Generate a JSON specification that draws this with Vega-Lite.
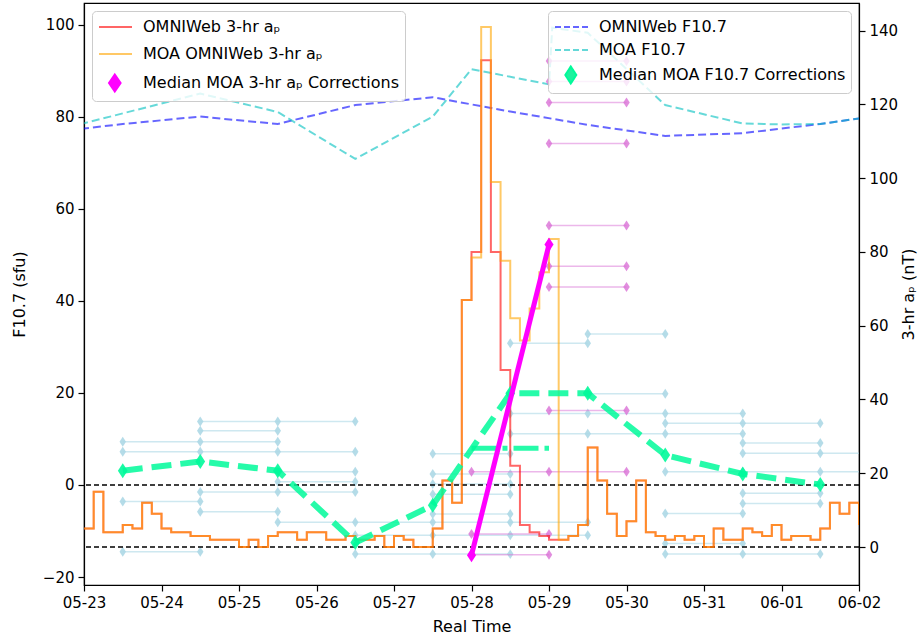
{
  "$schema": "https://vega.github.io/schema/vega-lite/v6.json",
  "width": 775,
  "height": 582,
  "autosize": {"type": "none"},
  "padding": {"left": 84, "top": 3, "right": 61, "bottom": 53},
  "background": "white",
  "config": {
    "font": "DejaVu Sans",
    "view": {"stroke": "black", "strokeWidth": 1.2},
    "axis": {"labelFont": "DejaVu Sans", "titleFont": "DejaVu Sans", "labelFontSize": 15, "titleFontSize": 16, "titleFontWeight": "normal", "labelColor": "black", "titleColor": "black", "tickColor": "black", "domainColor": "black", "grid": false, "tickWidth": 1.2, "domainWidth": 1.2}
  },
  "datasets": {
    "ap": [
      {"t":"2017-05-23T00:00","o":5,"m":5},{"t":"2017-05-23T03:00","o":15,"m":15},{"t":"2017-05-23T06:00","o":4,"m":4},{"t":"2017-05-23T09:00","o":4,"m":4},
      {"t":"2017-05-23T12:00","o":6,"m":6},{"t":"2017-05-23T15:00","o":5,"m":5},{"t":"2017-05-23T18:00","o":12,"m":12},{"t":"2017-05-23T21:00","o":9,"m":9},
      {"t":"2017-05-24T00:00","o":5,"m":5},{"t":"2017-05-24T03:00","o":4,"m":4},{"t":"2017-05-24T06:00","o":4,"m":4},{"t":"2017-05-24T09:00","o":3,"m":3},
      {"t":"2017-05-24T12:00","o":3,"m":3},{"t":"2017-05-24T15:00","o":2,"m":2},{"t":"2017-05-24T18:00","o":2,"m":2},{"t":"2017-05-24T21:00","o":2,"m":2},
      {"t":"2017-05-25T00:00","o":0,"m":0},{"t":"2017-05-25T03:00","o":2,"m":2},{"t":"2017-05-25T06:00","o":0,"m":0},{"t":"2017-05-25T09:00","o":3,"m":3},
      {"t":"2017-05-25T12:00","o":4,"m":4},{"t":"2017-05-25T15:00","o":4,"m":4},{"t":"2017-05-25T18:00","o":2,"m":2},{"t":"2017-05-25T21:00","o":4,"m":4},
      {"t":"2017-05-26T00:00","o":4,"m":4},{"t":"2017-05-26T03:00","o":2,"m":2},{"t":"2017-05-26T06:00","o":2,"m":2},{"t":"2017-05-26T09:00","o":3,"m":3},
      {"t":"2017-05-26T12:00","o":2,"m":2},{"t":"2017-05-26T15:00","o":2,"m":2},{"t":"2017-05-26T18:00","o":3,"m":3},{"t":"2017-05-26T21:00","o":0,"m":0},
      {"t":"2017-05-27T00:00","o":3,"m":3},{"t":"2017-05-27T03:00","o":2,"m":2},{"t":"2017-05-27T06:00","o":0,"m":0},{"t":"2017-05-27T09:00","o":0,"m":0},
      {"t":"2017-05-27T12:00","o":5,"m":5},{"t":"2017-05-27T15:00","o":18,"m":18},{"t":"2017-05-27T18:00","o":12,"m":12},{"t":"2017-05-27T21:00","o":67,"m":67},
      {"t":"2017-05-28T00:00","o":80,"m":78.5},{"t":"2017-05-28T03:00","o":132,"m":141},{"t":"2017-05-28T06:00","o":80,"m":99},{"t":"2017-05-28T09:00","o":48,"m":77.6},
      {"t":"2017-05-28T12:00","o":22,"m":62},{"t":"2017-05-28T15:00","o":6,"m":56},{"t":"2017-05-28T18:00","o":4,"m":64.7},{"t":"2017-05-28T21:00","o":3,"m":74.5},
      {"t":"2017-05-29T00:00","o":2,"m":83.5},{"t":"2017-05-29T03:00","o":2,"m":2},{"t":"2017-05-29T06:00","o":3,"m":3},{"t":"2017-05-29T09:00","o":6,"m":6},
      {"t":"2017-05-29T12:00","o":27,"m":27},{"t":"2017-05-29T15:00","o":18,"m":18},{"t":"2017-05-29T18:00","o":9,"m":9},{"t":"2017-05-29T21:00","o":3,"m":3},
      {"t":"2017-05-30T00:00","o":7,"m":7},{"t":"2017-05-30T03:00","o":18,"m":18},{"t":"2017-05-30T06:00","o":4,"m":4},{"t":"2017-05-30T09:00","o":3,"m":3},
      {"t":"2017-05-30T12:00","o":2,"m":2},{"t":"2017-05-30T15:00","o":3,"m":3},{"t":"2017-05-30T18:00","o":2,"m":2},{"t":"2017-05-30T21:00","o":3,"m":3},
      {"t":"2017-05-31T00:00","o":0,"m":0},{"t":"2017-05-31T03:00","o":5,"m":5},{"t":"2017-05-31T06:00","o":2,"m":2},{"t":"2017-05-31T09:00","o":2,"m":2},
      {"t":"2017-05-31T12:00","o":5,"m":5},{"t":"2017-05-31T15:00","o":4,"m":4},{"t":"2017-05-31T18:00","o":3,"m":3},{"t":"2017-05-31T21:00","o":6,"m":6},
      {"t":"2017-06-01T00:00","o":2,"m":2},{"t":"2017-06-01T03:00","o":3,"m":3},{"t":"2017-06-01T06:00","o":3,"m":3},{"t":"2017-06-01T09:00","o":2,"m":2},
      {"t":"2017-06-01T12:00","o":5,"m":5},{"t":"2017-06-01T15:00","o":12,"m":12},{"t":"2017-06-01T18:00","o":9,"m":9},{"t":"2017-06-01T21:00","o":12,"m":12},
      {"t":"2017-06-02T00:00","o":6,"m":6}
    ],
    "f107": [
      {"s":"o","t":"2017-05-22T12:00","v":76.4},{"s":"o","t":"2017-05-23T12:00","v":78.4},{"s":"o","t":"2017-05-24T12:00","v":80.0},{"s":"o","t":"2017-05-25T12:00","v":78.4},
      {"s":"o","t":"2017-05-26T12:00","v":82.5},{"s":"o","t":"2017-05-27T12:00","v":84.2},{"s":"o","t":"2017-05-28T12:00","v":81.1},{"s":"o","t":"2017-05-29T12:00","v":78.2},
      {"s":"o","t":"2017-05-30T12:00","v":75.8},{"s":"o","t":"2017-05-31T12:00","v":76.4},{"s":"o","t":"2017-06-01T12:00","v":78.4},{"s":"o","t":"2017-06-02T12:00","v":80.8},
      {"s":"m","t":"2017-05-22T12:00","v":76.4},{"s":"m","t":"2017-05-23T12:00","v":80.7},{"s":"m","t":"2017-05-24T12:00","v":85.0},{"s":"m","t":"2017-05-25T12:00","v":81.0},
      {"s":"m","t":"2017-05-26T12:00","v":70.8},{"s":"m","t":"2017-05-27T12:00","v":80.0},{"s":"m","t":"2017-05-28T00:00","v":90.3},{"s":"m","t":"2017-05-29T00:00","v":87.0},
      {"s":"m","t":"2017-05-29T01:00","v":99.3},{"s":"m","t":"2017-05-29T12:00","v":98.2},{"s":"m","t":"2017-05-30T12:00","v":82.5},{"s":"m","t":"2017-05-31T12:00","v":78.5},
      {"s":"m","t":"2017-06-01T00:00","v":78.3},{"s":"m","t":"2017-06-01T12:00","v":78.4},{"s":"m","t":"2017-06-02T12:00","v":80.8}
    ],
    "fens": [
      {"g":"A","t":"2017-05-23T12:00","v":9.4},{"g":"A","t":"2017-05-24T12:00","v":9.4},{"g":"A","t":"2017-05-25T12:00","v":9.4},
      {"g":"B","t":"2017-05-23T12:00","v":7.2},{"g":"B","t":"2017-05-24T12:00","v":7.2},{"g":"B","t":"2017-05-25T12:00","v":7.2},{"g":"B","t":"2017-05-26T12:00","v":7.2},
      {"g":"C","t":"2017-05-23T12:00","v":-3.6},{"g":"C","t":"2017-05-24T12:00","v":-3.6},
      {"g":"D","t":"2017-05-23T12:00","v":-14.5},{"g":"D","t":"2017-05-24T12:00","v":-14.5},
      {"g":"E","t":"2017-05-24T12:00","v":13.8},{"g":"E","t":"2017-05-25T12:00","v":13.8},{"g":"E","t":"2017-05-26T12:00","v":13.8},
      {"g":"F","t":"2017-05-24T12:00","v":11.8},{"g":"F","t":"2017-05-25T12:00","v":11.8},
      {"g":"G","t":"2017-05-24T12:00","v":-1.5},{"g":"G","t":"2017-05-25T12:00","v":-1.5},{"g":"G","t":"2017-05-26T12:00","v":-1.5},
      {"g":"H","t":"2017-05-24T12:00","v":-5.8},{"g":"H","t":"2017-05-25T12:00","v":-5.8},
      {"g":"I","t":"2017-05-25T12:00","v":2.9},{"g":"I","t":"2017-05-26T12:00","v":2.9},
      {"g":"J","t":"2017-05-25T12:00","v":0.7},{"g":"J","t":"2017-05-26T12:00","v":0.7},
      {"g":"K","t":"2017-05-25T12:00","v":-8.1},{"g":"K","t":"2017-05-26T12:00","v":-8.1},{"g":"K","t":"2017-05-27T12:00","v":-8.1},{"g":"K","t":"2017-05-28T12:00","v":-8.1},{"g":"K","t":"2017-05-29T12:00","v":-8.1},
      {"g":"L","t":"2017-05-26T12:00","v":-10.9},{"g":"L","t":"2017-05-27T12:00","v":-10.9},{"g":"L","t":"2017-05-28T12:00","v":-10.9},{"g":"L","t":"2017-05-29T12:00","v":-10.9},
      {"g":"M","t":"2017-05-26T12:00","v":-15.0},{"g":"M","t":"2017-05-27T12:00","v":-15.0},{"g":"M","t":"2017-05-28T12:00","v":-15.0},
      {"g":"N","t":"2017-05-27T12:00","v":6.8},{"g":"N","t":"2017-05-28T12:00","v":6.8},
      {"g":"O","t":"2017-05-27T12:00","v":2.4},{"g":"O","t":"2017-05-28T12:00","v":2.4},
      {"g":"P","t":"2017-05-27T12:00","v":0.2},{"g":"P","t":"2017-05-28T12:00","v":0.2},
      {"g":"Q","t":"2017-05-27T12:00","v":-2.0},{"g":"Q","t":"2017-05-28T12:00","v":-2.0},
      {"g":"R","t":"2017-05-27T12:00","v":-6.3},{"g":"R","t":"2017-05-28T12:00","v":-6.3},
      {"g":"S","t":"2017-05-28T12:00","v":30.8},{"g":"S","t":"2017-05-29T12:00","v":30.8},
      {"g":"T","t":"2017-05-28T12:00","v":15.5},{"g":"T","t":"2017-05-29T12:00","v":15.5},{"g":"T","t":"2017-05-30T12:00","v":15.5},{"g":"T","t":"2017-05-31T12:00","v":15.5},
      {"g":"U","t":"2017-05-28T12:00","v":11.1},{"g":"U","t":"2017-05-29T12:00","v":11.1},{"g":"U","t":"2017-05-30T12:00","v":11.1},{"g":"U","t":"2017-05-31T12:00","v":11.1},
      {"g":"V","t":"2017-05-29T12:00","v":32.8},{"g":"V","t":"2017-05-30T12:00","v":32.8},
      {"g":"W","t":"2017-05-29T12:00","v":19.8},{"g":"W","t":"2017-05-30T12:00","v":19.8},
      {"g":"X","t":"2017-05-30T12:00","v":13.4},{"g":"X","t":"2017-05-31T12:00","v":13.4},{"g":"X","t":"2017-06-01T12:00","v":13.4},
      {"g":"Y","t":"2017-05-30T12:00","v":2.9},{"g":"Y","t":"2017-05-31T12:00","v":2.9},{"g":"Y","t":"2017-06-01T12:00","v":2.9},{"g":"Y","t":"2017-06-02T12:00","v":2.9},
      {"g":"Z","t":"2017-05-30T12:00","v":-6.2},{"g":"Z","t":"2017-05-31T12:00","v":-6.2},
      {"g":"AA","t":"2017-05-30T12:00","v":-12.7},{"g":"AA","t":"2017-05-31T12:00","v":-12.7},
      {"g":"AB","t":"2017-05-30T12:00","v":-15.0},{"g":"AB","t":"2017-05-31T12:00","v":-15.0},{"g":"AB","t":"2017-06-01T12:00","v":-15.0},
      {"g":"AC","t":"2017-05-31T12:00","v":9.1},{"g":"AC","t":"2017-06-01T12:00","v":9.1},
      {"g":"AD","t":"2017-05-31T12:00","v":6.9},{"g":"AD","t":"2017-06-01T12:00","v":6.9},{"g":"AD","t":"2017-06-02T12:00","v":6.9},
      {"g":"AE","t":"2017-05-31T12:00","v":-1.8},{"g":"AE","t":"2017-06-01T12:00","v":-1.8},
      {"g":"AF","t":"2017-05-31T12:00","v":-4.0},{"g":"AF","t":"2017-06-01T12:00","v":-4.0}
    ],
    "aens": [
      {"g":"a","t":"2017-05-28T00:00","v":20.4},{"g":"a","t":"2017-05-29T00:00","v":20.4},{"g":"a","t":"2017-05-30T00:00","v":20.4},
      {"g":"b","t":"2017-05-28T00:00","v":3.5},{"g":"b","t":"2017-05-29T00:00","v":3.5},
      {"g":"c","t":"2017-05-28T00:00","v":-2.1},{"g":"c","t":"2017-05-29T00:00","v":-2.1},
      {"g":"d","t":"2017-05-29T00:00","v":131.8},{"g":"d","t":"2017-05-30T00:00","v":131.8},
      {"g":"e","t":"2017-05-29T00:00","v":126.2},{"g":"e","t":"2017-05-30T00:00","v":126.2},
      {"g":"f","t":"2017-05-29T00:00","v":120.5},{"g":"f","t":"2017-05-30T00:00","v":120.5},
      {"g":"h","t":"2017-05-29T00:00","v":109.4},{"g":"h","t":"2017-05-30T00:00","v":109.4},
      {"g":"i","t":"2017-05-29T00:00","v":87.2},{"g":"i","t":"2017-05-30T00:00","v":87.2},
      {"g":"j","t":"2017-05-29T00:00","v":76.1},{"g":"j","t":"2017-05-30T00:00","v":76.1},
      {"g":"k","t":"2017-05-29T00:00","v":70.5},{"g":"k","t":"2017-05-30T00:00","v":70.5},
      {"g":"l","t":"2017-05-29T00:00","v":37.0},{"g":"l","t":"2017-05-30T00:00","v":37.0}
    ],
    "fmed": [
      {"t":"2017-05-23T12:00","v":3.1},{"t":"2017-05-24T12:00","v":5.1},{"t":"2017-05-25T12:00","v":3.1},{"t":"2017-05-26T12:00","v":-12.5},
      {"t":"2017-05-27T12:00","v":-4.4},{"t":"2017-05-28T12:00","v":19.9},{"t":"2017-05-29T12:00","v":19.9},{"t":"2017-05-30T12:00","v":6.5},
      {"t":"2017-05-31T12:00","v":2.4},{"t":"2017-06-01T12:00","v":0.1}
    ],
    "fdd": [{"t":"2017-05-28T00:00","v":8.0},{"t":"2017-05-29T00:00","v":8.0}],
    "amed": [{"t":"2017-05-28T00:00","v":-2.2},{"t":"2017-05-29T00:00","v":82.0}]
  },
  "layer": [
    {
      "layer": [
        {
          "data": {"name": "fens"},
          "mark": {"type": "line", "color": "#add8e6", "opacity": 0.6, "strokeWidth": 1.5, "clip": true},
          "encoding": {
            "x": {"field": "t", "type": "temporal", "title": "Real Time",
              "scale": {"domain": [{"year": 2017, "month": 5, "date": 23}, {"year": 2017, "month": 6, "date": 2}]},
              "axis": {"values": [{"year": 2017, "month": 5, "date": 23}, {"year": 2017, "month": 5, "date": 24}, {"year": 2017, "month": 5, "date": 25}, {"year": 2017, "month": 5, "date": 26}, {"year": 2017, "month": 5, "date": 27}, {"year": 2017, "month": 5, "date": 28}, {"year": 2017, "month": 5, "date": 29}, {"year": 2017, "month": 5, "date": 30}, {"year": 2017, "month": 5, "date": 31}, {"year": 2017, "month": 6, "date": 1}, {"year": 2017, "month": 6, "date": 2}],
                "format": "%m-%d", "tickSize": 6, "labelPadding": 4, "titlePadding": 8, "labelFlush": false, "labelOverlap": false, "labelBound": false}},
            "y": {"field": "v", "type": "quantitative", "title": "F10.7 (sfu)",
              "scale": {"domain": [-21.72, 104.67], "zero": false, "nice": false},
              "axis": {"orient": "left", "values": [-20, 0, 20, 40, 60, 80, 100], "tickSize": 6, "labelPadding": 4, "titlePadding": 15}},
            "detail": {"field": "g"}
          }
        },
        {
          "data": {"name": "fens"},
          "mark": {"type": "point", "shape": "M0,-1L0.65,0L0,1L-0.65,0Z", "filled": true, "color": "#add8e6", "opacity": 0.9, "size": 100, "clip": true},
          "encoding": {
            "x": {"field": "t", "type": "temporal"},
            "y": {"field": "v", "type": "quantitative", "title": "F10.7 (sfu)"}
          }
        },
        {
          "data": {"values": [{}]},
          "mark": {"type": "rule", "color": "black", "strokeDash": [5, 3], "strokeWidth": 1.3},
          "encoding": {"y": {"datum": 0, "type": "quantitative"}}
        },
        {
          "data": {"name": "f107"},
          "transform": [{"filter": "datum.s === 'o'"}],
          "mark": {"type": "line", "strokeDash": [8, 4], "strokeWidth": 2, "strokeOpacity": 0.6, "clip": true},
          "encoding": {
            "x": {"field": "t", "type": "temporal"},
            "y": {"field": "v", "type": "quantitative", "title": "F10.7 (sfu)"},
            "color": {"datum": "OMNIWeb F10.7",
              "scale": {"domain": ["OMNIWeb F10.7", "MOA F10.7", "Median MOA F10.7 Corrections"], "range": ["#0000ff", "#00bfbf", "#00fa9a"]},
              "legend": {"orient": "top-right", "offset": 8, "title": null, "labelFontSize": 16, "labelFont": "DejaVu Sans", "labelColor": "black", "labelLimit": 400,
                "fillColor": "rgba(255,255,255,0.8)", "strokeColor": "#cccccc", "cornerRadius": 4, "padding": 5, "rowPadding": 4, "labelOffset": 24, "symbolSize": 400,
                "symbolType": {"expr": "datum.value === 'Median MOA F10.7 Corrections' ? 'M0.68,-0.85L1.23,0L0.68,0.85L0.13,0Z' : 'M-0.9,0L2.4,0'"},
                "symbolFillColor": {"expr": "datum.value === 'Median MOA F10.7 Corrections' ? '#1ef29e' : 'transparent'"},
                "symbolStrokeColor": {"expr": "datum.value === 'OMNIWeb F10.7' ? '#6666ff' : (datum.value === 'MOA F10.7' ? '#66d9d9' : 'transparent')"},
                "symbolDash": {"expr": "datum.value === 'Median MOA F10.7 Corrections' ? [1, 0] : [6, 3]"},
                "symbolStrokeWidth": 2,
                "symbolOpacity": {"expr": "datum.value === 'Median MOA F10.7 Corrections' ? 1 : 0.6"}
              }
            }
          }
        },
        {
          "data": {"name": "f107"},
          "transform": [{"filter": "datum.s === 'm'"}],
          "mark": {"type": "line", "strokeDash": [8, 4], "strokeWidth": 2, "strokeOpacity": 0.6, "clip": true},
          "encoding": {
            "x": {"field": "t", "type": "temporal"},
            "y": {"field": "v", "type": "quantitative", "title": "F10.7 (sfu)"},
            "color": {"datum": "MOA F10.7"}
          }
        }
      ]
    },
    {
      "layer": [
        {
          "data": {"name": "aens"},
          "mark": {"type": "line", "color": "#da70d6", "opacity": 0.5, "strokeWidth": 1.5, "clip": true},
          "encoding": {
            "x": {"field": "t", "type": "temporal"},
            "y": {"field": "v", "type": "quantitative", "title": "3-hr aₚ (nT)",
              "scale": {"domain": [-10.3, 147.5], "zero": false, "nice": false},
              "axis": {"orient": "right", "values": [0, 20, 40, 60, 80, 100, 120, 140], "tickSize": 6, "labelPadding": 4, "titlePadding": 3, "titleAngle": 270, "titleBaseline": "top"}},
            "detail": {"field": "g"}
          }
        },
        {
          "data": {"name": "aens"},
          "mark": {"type": "point", "shape": "M0,-1L0.65,0L0,1L-0.65,0Z", "filled": true, "color": "#da70d6", "opacity": 0.8, "size": 100, "clip": true},
          "encoding": {
            "x": {"field": "t", "type": "temporal"},
            "y": {"field": "v", "type": "quantitative", "title": "3-hr aₚ (nT)"}
          }
        },
        {
          "data": {"values": [{}]},
          "mark": {"type": "rule", "color": "black", "strokeDash": [5, 3], "strokeWidth": 1.3},
          "encoding": {"y": {"datum": 0, "type": "quantitative"}}
        },
        {
          "data": {"name": "ap"},
          "mark": {"type": "line", "interpolate": "step-after", "strokeWidth": 2, "strokeOpacity": 0.6, "clip": true},
          "encoding": {
            "x": {"field": "t", "type": "temporal"},
            "y": {"field": "o", "type": "quantitative", "title": "3-hr aₚ (nT)"},
            "color": {"datum": "OMNIWeb 3-hr aₚ",
              "scale": {"domain": ["OMNIWeb 3-hr aₚ", "MOA OMNIWeb 3-hr aₚ", "Median MOA 3-hr aₚ Corrections"], "range": ["#ff0000", "#ffa500", "#ff00ff"]},
              "legend": {"orient": "top-left", "offset": 8, "title": null, "labelFontSize": 16, "labelFont": "DejaVu Sans", "labelColor": "black", "labelLimit": 400,
                "fillColor": "rgba(255,255,255,0.8)", "strokeColor": "#cccccc", "cornerRadius": 4, "padding": 5, "rowPadding": 8, "labelOffset": 24, "symbolSize": 400,
                "symbolType": {"expr": "datum.value === 'Median MOA 3-hr aₚ Corrections' ? 'M0.68,-0.85L1.26,0L0.68,0.85L0.1,0Z' : 'M-0.9,0L2.4,0'"},
                "symbolFillColor": {"expr": "datum.value === 'Median MOA 3-hr aₚ Corrections' ? '#ff00ff' : 'transparent'"},
                "symbolStrokeColor": {"expr": "datum.value === 'OMNIWeb 3-hr aₚ' ? '#ff6666' : (datum.value === 'MOA OMNIWeb 3-hr aₚ' ? '#ffc966' : 'transparent')"},
                "symbolStrokeWidth": 2,
                "symbolOpacity": {"expr": "datum.value === 'Median MOA 3-hr aₚ Corrections' ? 1 : 0.6"}
              }
            }
          }
        },
        {
          "data": {"name": "ap"},
          "mark": {"type": "line", "interpolate": "step-after", "strokeWidth": 2, "strokeOpacity": 0.6, "clip": true},
          "encoding": {
            "x": {"field": "t", "type": "temporal"},
            "y": {"field": "m", "type": "quantitative", "title": "3-hr aₚ (nT)"},
            "color": {"datum": "MOA OMNIWeb 3-hr aₚ"}
          }
        }
      ]
    },
    {
      "layer": [
        {
          "data": {"name": "fmed"},
          "mark": {"type": "line", "color": "#00fa9a", "opacity": 0.85, "strokeWidth": 6, "strokeDash": [20, 9], "clip": true},
          "encoding": {
            "x": {"field": "t", "type": "temporal"},
            "y": {"field": "v", "type": "quantitative", "scale": {"domain": [-21.72, 104.67], "zero": false, "nice": false}, "axis": null}
          }
        },
        {
          "data": {"name": "fmed"},
          "mark": {"type": "point", "shape": "M0,-1L0.65,0L0,1L-0.65,0Z", "filled": true, "color": "#00fa9a", "opacity": 0.9, "size": 225, "clip": true},
          "encoding": {
            "x": {"field": "t", "type": "temporal"},
            "y": {"field": "v", "type": "quantitative"}
          }
        },
        {
          "data": {"name": "fdd"},
          "mark": {"type": "line", "color": "#00fa9a", "opacity": 0.85, "strokeWidth": 5, "strokeDash": [25, 6, 5, 6], "clip": true},
          "encoding": {
            "x": {"field": "t", "type": "temporal"},
            "y": {"field": "v", "type": "quantitative"}
          }
        }
      ]
    },
    {
      "layer": [
        {
          "data": {"name": "amed"},
          "mark": {"type": "line", "color": "#ff00ff", "strokeWidth": 5, "clip": true},
          "encoding": {
            "x": {"field": "t", "type": "temporal"},
            "y": {"field": "v", "type": "quantitative", "scale": {"domain": [-10.3, 147.5], "zero": false, "nice": false}, "axis": null}
          }
        },
        {
          "data": {"name": "amed"},
          "mark": {"type": "point", "shape": "M0,-1L0.65,0L0,1L-0.65,0Z", "filled": true, "color": "#ff00ff", "opacity": 1, "size": 196, "clip": true},
          "encoding": {
            "x": {"field": "t", "type": "temporal"},
            "y": {"field": "v", "type": "quantitative"}
          }
        }
      ]
    }
  ],
  "resolve": {"scale": {"y": "independent", "color": "independent"}, "axis": {"y": "independent"}, "legend": {"color": "independent"}}
}
